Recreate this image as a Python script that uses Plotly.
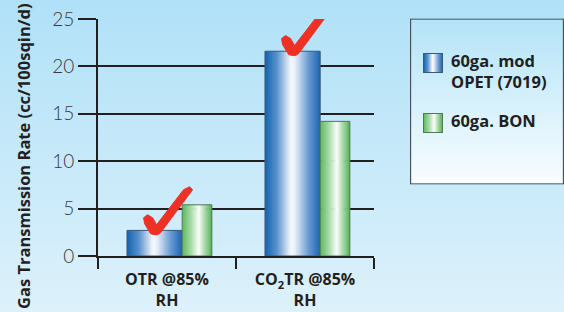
import base64
import plotly.graph_objects as go

# ---------------- data ----------------
categories = ["OTR @85%<br>RH", "CO<sub>2</sub>TR @85%<br>RH"]
series_names = ["60ga. mod<br>OPET (7019)", "60ga. BON"]
opet_values = [2.7, 21.6]
bon_values = [5.4, 14.2]
y_ticks = [0, 5, 10, 15, 20, 25]
checked = [True, True]  # check mark on the OPET bar of each category

# ---------------- geometry ----------------
W, H = 564, 312
L, R, T, B = 98, 190, 19, 56
PW, PH = W - L - R, H - T - B
INK = "#231f20"

def px_x(px):
    return (px - L) / PW

def px_y(py):
    return (T + PH - py) / PH

def svg_uri(svg):
    return "data:image/svg+xml;base64," + base64.b64encode(svg.encode()).decode()

def hex_to_rgb(h):
    h = h.lstrip("#")
    return tuple(int(h[i:i + 2], 16) for i in (0, 2, 4))

def interp(stops, t):
    for (t0, c0), (t1, c1) in zip(stops, stops[1:]):
        if t0 <= t <= t1:
            f = (t - t0) / (t1 - t0) if t1 > t0 else 0
            a, b = hex_to_rgb(c0), hex_to_rgb(c1)
            return "rgb(%d,%d,%d)" % tuple(round(a[i] + (b[i] - a[i]) * f) for i in range(3))
    return stops[-1][1]

blue_stops = [(0, "#1463ae"), (0.22, "#5a93ce"), (0.47, "#f7fafd"), (0.55, "#e4edf8"),
              (0.8, "#6597d1"), (1, "#1d65b2")]
green_stops = [(0, "#5cb85c"), (0.3, "#a8dba8"), (0.56, "#fbfdfb"), (0.8, "#9bd29b"), (1, "#55b055")]

x_idx = list(range(len(categories)))
bars = [
    dict(values=opet_values, offset=-0.29, width=0.40, stops=blue_stops, edge="#3d5a75"),
    dict(values=bon_values, offset=0.11, width=0.215, stops=green_stops, edge="#4f7a55"),
]

fig = go.Figure()
N = 32
for bar in bars:
    step = bar["width"] / N
    for i in range(N):
        t = (i + 0.5) / N
        w = step * (1.6 if i < N - 1 else 1.0)
        fig.add_trace(go.Bar(
            x=x_idx, y=bar["values"], offset=bar["offset"] + i * step, width=w,
            marker=dict(color=interp(bar["stops"], t), line=dict(width=0)),
            showlegend=False, hoverinfo="skip"))
    fig.add_trace(go.Bar(
        x=x_idx, y=bar["values"], offset=bar["offset"], width=bar["width"],
        marker=dict(color="rgba(0,0,0,0)", line=dict(color=bar["edge"], width=1)),
        showlegend=False, hoverinfo="skip"))

# ---------------- check marks (anchored to the OPET bar tops) ----------------
ux = PW / 2.0   # px per category unit
uy = PH / 25.0  # px per value unit
check_pts = [(0, 1), (-4, 0), (-10, -10), (-11, -16), (-7, -19), (-2, -16), (2, -9),
             (29, -44), (35, -47), (38, -44), (6, -1), (3, 1)]
shapes = []
for i, (v, on) in enumerate(zip(opet_values, checked)):
    if not on:
        continue
    cx = i + bars[0]["offset"] + bars[0]["width"] / 2
    pts = [(cx + dx / ux, v - 0.35 - dy / uy) for dx, dy in check_pts]
    path = "M" + " L".join("%.4f,%.4f" % p for p in pts) + " Z"
    shapes.append(dict(type="path", xref="x", yref="y", path=path,
                       fillcolor="#ee3124", line=dict(color="#ee3124", width=1)))

# ---------------- background / legend images ----------------
bg_svg = ('<svg xmlns="http://www.w3.org/2000/svg" width="564" height="312" preserveAspectRatio="none">'
          '<defs><linearGradient id="g" x1="0" y1="0" x2="0" y2="1">'
          '<stop offset="0" stop-color="#b0e1f8"/><stop offset="1" stop-color="#ddf1fb"/>'
          '</linearGradient></defs><rect width="564" height="312" fill="url(#g)"/></svg>')
leg_svg = ('<svg xmlns="http://www.w3.org/2000/svg" width="154" height="166" preserveAspectRatio="none">'
           '<defs><linearGradient id="g" x1="0" y1="0" x2="0" y2="1">'
           '<stop offset="0" stop-color="#b3e3f8"/><stop offset="1" stop-color="#f9fdff"/>'
           '</linearGradient></defs>'
           '<rect x="0.5" y="0.5" width="153" height="165" fill="url(#g)" stroke="#44505a" stroke-width="1.3"/></svg>')

def swatch_svg(stops, edge):
    st = "".join('<stop offset="%g" stop-color="%s"/>' % (o, c) for o, c in stops)
    return ('<svg xmlns="http://www.w3.org/2000/svg" width="20" height="20" preserveAspectRatio="none">'
            '<defs><linearGradient id="g" x1="0" y1="0" x2="1" y2="0">' + st +
            '</linearGradient></defs><rect x="0.5" y="0.5" width="19" height="19" fill="url(#g)" '
            'stroke="%s" stroke-width="1"/></svg>' % edge)

images = [
    dict(source=svg_uri(bg_svg), xref="paper", yref="paper", x=px_x(0), y=px_y(0),
         sizex=W / PW, sizey=H / PH, xanchor="left", yanchor="top", sizing="stretch", layer="below"),
    dict(source=svg_uri(leg_svg), xref="paper", yref="paper", x=px_x(410), y=px_y(18.5),
         sizex=154 / PW, sizey=166 / PH, xanchor="left", yanchor="top", sizing="stretch", layer="below"),
]
legend_rows = [(53, 63), (113, 122)]
annotations = []
for bar, name, (sy, ty) in zip(bars, series_names, legend_rows):
    images.append(dict(source=svg_uri(swatch_svg(bar["stops"], bar["edge"])), xref="paper", yref="paper",
                       x=px_x(423), y=px_y(sy), sizex=20 / PW, sizey=20 / PH,
                       xanchor="left", yanchor="top", sizing="stretch", layer="above"))
    annotations.append(dict(text=name, xref="paper", yref="paper", x=px_x(449), y=px_y(sy - 6),
                            xanchor="left", yanchor="top", align="left", showarrow=False,
                            font=dict(family="Open Sans", size=16.5, color=INK, weight="bold")))

annotations.append(dict(text="Gas Transmission Rate (cc/100sqin/d)", xref="paper", yref="paper",
                        x=px_x(23), y=px_y(156), textangle=-90, showarrow=False,
                        xanchor="center", yanchor="middle",
                        font=dict(family="Open Sans", size=16.5, color=INK, weight="bold")))

fig.update_layout(
    width=W, height=H, margin=dict(l=L, r=R, t=T, b=B, pad=0, autoexpand=False),
    barmode="overlay", paper_bgcolor="#ddf1fb", plot_bgcolor="rgba(0,0,0,0)",
    showlegend=False, shapes=shapes, images=images, annotations=annotations,
    xaxis=dict(range=[-0.5, 1.5], tickmode="array", tickvals=x_idx, ticktext=categories,
               ticks="", showgrid=False, zeroline=False, showline=True, linecolor=INK, linewidth=2,
               ticklabelstandoff=8, automargin=False,
               tickfont=dict(family="Open Sans", size=16, color=INK, weight="bold"),
               minor=dict(tickmode="array", tickvals=[-0.5, 0.5, 1.5], ticks="outside",
                          ticklen=11, tickwidth=2, tickcolor=INK, showgrid=False)),
    yaxis=dict(range=[0, 25], tickmode="array", tickvals=y_ticks, ticks="outside", ticklen=18,
               tickwidth=2, tickcolor=INK, showgrid=True, gridcolor=INK, gridwidth=2,
               zeroline=False, showline=True, linecolor=INK, linewidth=2, automargin=False,
               tickfont=dict(family="Lato", size=19, color="#3a3a3a", weight=300)),
)

fig.write_html("out.html", config={"displayModeBar": False, "staticPlot": True},
               post_script="document.body.style.margin='0';document.body.style.overflow='hidden';")
